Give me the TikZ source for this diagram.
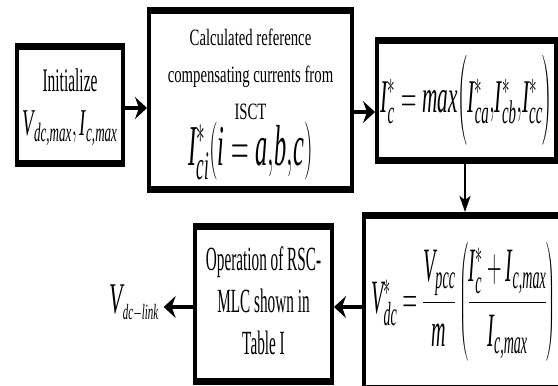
\RequirePackage{fix-cm}
\documentclass[tikz,border=0pt]{standalone}
\usepackage{amsmath}
\usepackage{graphicx}
\usepackage{fontspec}
\setmainfont{Liberation Serif}
\usetikzlibrary{arrows.meta}
\newcommand\ti[1]{\textit{#1}}
\newcommand\sq[3]{\scalebox{#1}[1]{#2\begin{tabular}{@{}c@{}}#3\end{tabular}}}
\newcommand\bars[1]{%
  \fill ([xshift=-2bp,yshift=2bp]#1.north west) rectangle ([xshift=2bp,yshift=-5bp]#1.north east);
  \fill ([xshift=-2bp,yshift=-2bp]#1.south west) rectangle ([xshift=2bp,yshift=5bp]#1.south east);}
\begin{document}
\begin{tikzpicture}[x=1bp,y=-1bp,
  box/.style={draw=black, line width=4bp, fill=white, inner sep=0pt, outer sep=0pt, align=center},
  conn/.style={line width=4.5bp, -{Stealth[length=12bp,width=22bp,inset=4bp]}, shorten >=2bp},
  thinconn/.style={line width=2.5bp, -{Stealth[length=16bp,width=11bp,inset=4bp]}, shorten >=2bp}]
\useasboundingbox (0,0) rectangle (558,385);

\node[box, minimum width=106bp, minimum height=120bp] (b1) at (70,105)
  {\raisebox{-10bp}{\sq{0.47}{\fontsize{33}{44}\selectfont}{Initialize\\
   \fontsize{38}{44}\selectfont\scalebox{1.05}[1]{$\ti{V}_{\ti{dc,max}},\ti{I}_{\ti{c,max}}$}}}};
\bars{b1}

\node[box, minimum width=203bp, minimum height=182bp] (b2) at (250.5,100)
  {\raisebox{-8bp}{\sq{0.63}{\fontsize{23.5}{37}\selectfont}{Calculated reference\\
   compensating currents from\\ ISCT\\[-8bp]
   \fontsize{58}{58}\selectfont\scalebox{0.67}[1]{$\ti{I}^{*}_{\ti{ci}}(\ti{i}=\ti{a}{,}\ti{b}{,}\ti{c})$}}}};
\bars{b2}

\node[box, minimum width=179bp, minimum height=123bp] (b3) at (466.5,100.5)
  {\raisebox{-22bp}{\scalebox{0.455}[1]{\fontsize{47}{56}\selectfont
   $\ti{I}^{*}_{\ti{c}}=\ti{max}\Bigl(\ti{I}^{*}_{\ti{ca}}{,}\ti{I}^{*}_{\ti{cb}}{,}\ti{I}^{*}_{\ti{cc}}\Bigr)$}}};
\bars{b3}

\node[box, minimum width=199bp, minimum height=176bp] (b4) at (463.5,302)
  {\raisebox{-6bp}{\scalebox{0.42}[1]{\fontsize{48}{56}\selectfont
   $\ti{V}^{*}_{\ti{dc}}=\dfrac{\ti{V}_{\ti{pcc}}}{\ti{m}}\left(\dfrac{\ti{I}^{*}_{\ti{c}}+\ti{I}_{\ti{c,max}}}{\ti{I}_{\ti{c,max}}}\right)$}}};
\bars{b4}

\node[box, minimum width=137bp, minimum height=158bp] (b5) at (263.5,304)
  {\sq{0.45}{\fontsize{34}{42}\selectfont}{Operation of RSC-\\MLC shown in\\Table I}};
\bars{b5}

\node[inner sep=0pt] (vl) at (134,303)
  {\scalebox{0.5}[1]{\fontsize{44}{50}\selectfont $\ti{V}_{\scriptscriptstyle\ti{dc}-\ti{link}}$}};

\coordinate (y1) at (0,108);
\coordinate (y2) at (0,112);
\coordinate (x3) at (465,0);
\coordinate (y4) at (0,307);

\draw[conn] (b1.east |- y1) -- (b2.west |- y1);
\draw[conn] (b2.east |- y2) -- (b3.west |- y2);
\draw[thinconn] (b3.south -| x3) -- (b4.north -| x3);
\draw[conn] (b4.west |- y4) -- (b5.east |- y4);
\draw[conn, shorten >=5bp] (b5.west |- y4) -- (vl.east |- y4);
\end{tikzpicture}
\end{document}
